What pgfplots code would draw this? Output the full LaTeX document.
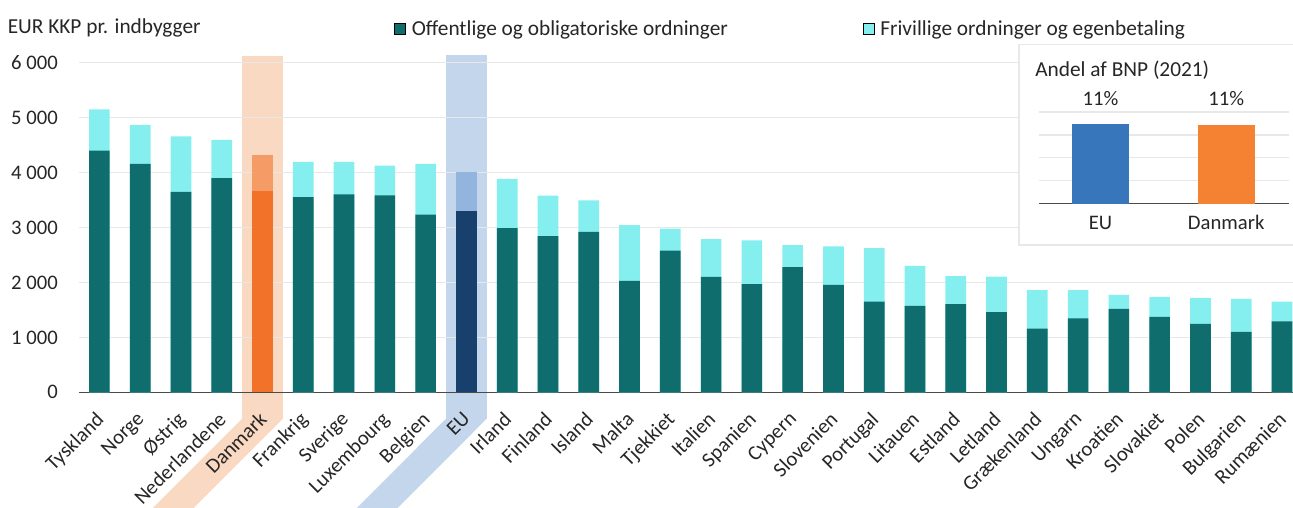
\documentclass[border=0pt]{standalone}
\usepackage{fontspec}
\setmainfont{Carlito}
\usepackage{pgfplots}
\pgfplotsset{compat=1.18}
\definecolor{tealc}{HTML}{0F6E6D}
\definecolor{cyanc}{HTML}{85EEEF}
\definecolor{dkc}{HTML}{F2722A}
\definecolor{dkl}{HTML}{F59B66}
\definecolor{euc}{HTML}{17406D}
\definecolor{eul}{HTML}{93B5DD}
\definecolor{dkband}{HTML}{FAD9C2}
\definecolor{euband}{HTML}{C4D6EC}
\definecolor{euB}{HTML}{3776BB}
\definecolor{dkB}{HTML}{F58233}
\definecolor{gridc}{HTML}{E8E8E8}
\definecolor{axc}{HTML}{4A4A4A}
\definecolor{txt}{HTML}{262626}
\begin{document}
\begin{tikzpicture}[font=\fontsize{15.5pt}{18pt}\selectfont, text=txt]
\begin{axis}[
  set layers,
  at={(0,0)}, anchor=south west,
  scale only axis, width=910.5pt, height=247.2pt,
  xmin=-0.5, xmax=29.27, ymin=0, ymax=6000,
  clip=false,
  ybar, bar width=15.5pt, bar shift=0pt,
  axis x line*=bottom, axis y line*=left,
  y axis line style={draw=none},
  x axis line style={draw=axc, line width=1.1pt},
  major tick length=0pt,
  xtick style={draw=none}, ytick style={draw=none},
  ytick={0,1000,...,6000},
  ymajorgrids, grid style={draw=gridc, line width=0.9pt},
  /pgf/number format/assume math mode=true,
  /pgf/number format/1000 sep={\ },
  yticklabel style={inner sep=0pt, anchor=east, xshift=-15.75pt},
  xtick={0,...,29},
  xticklabels={Tyskland,Norge,Østrig,Nederlandene,Danmark,Frankrig,Sverige,Luxembourg,Belgien,EU,Irland,Finland,Island,Malta,Tjekkiet,Italien,Spanien,Cypern,Slovenien,Portugal,Litauen,Estland,Letland,Grækenland,Ungarn,Kroatien,Slovakiet,Polen,Bulgarien,Rumænien},
  xticklabel style={xshift=-3.5pt, yshift=-13.5pt, rotate=45, anchor=north east, inner sep=0pt},
  legend image code/.code={\fill[#1] (0pt,-4.1pt) rectangle (8.25pt,4.1pt);},
  legend columns=-1,
  legend style={at={(0.2595,1.1028)}, anchor=west, draw=none, fill=none, inner sep=0pt,
    nodes={inner sep=0pt, font=\fontsize{16pt}{19pt}\selectfont},
    /tikz/every odd column/.style={column sep=4.5pt}},
]
\begin{pgfonlayer}{axis background}
\fill[dkband] (axis cs:3.5,6122) -- (axis cs:4.5,6122) -- (axis cs:4.5,-480) -- (axis cs:2.021,-2324) -- (axis cs:1.021,-2324) -- (axis cs:3.5,-480) -- cycle;
\fill[euband] (axis cs:8.5,6140) -- (axis cs:9.5,6140) -- (axis cs:9.5,-480) -- (axis cs:7.021,-2324) -- (axis cs:6.021,-2324) -- (axis cs:8.5,-480) -- cycle;
\end{pgfonlayer}
\addlegendimage{fill=tealc}
\addlegendentry{\makebox[338.25pt][l]{Offentlige og obligatoriske ordninger}}
\addlegendimage{fill=cyanc}
\addlegendentry{Frivillige ordninger og egenbetaling}
% totals
\addplot[fill=cyanc, draw=none, forget plot] coordinates {
(0,5150) (1,4870) (2,4660) (3,4595) (5,4195) (6,4195) (7,4125) (8,4160)
(10,3885) (11,3580) (12,3495) (13,3045) (14,2980) (15,2790) (16,2765) (17,2680)
(18,2655) (19,2625) (20,2300) (21,2115) (22,2105) (23,1860) (24,1860) (25,1775)
(26,1735) (27,1720) (28,1700) (29,1650)};
% public
\addplot[fill=tealc, draw=none, forget plot] coordinates {
(0,4400) (1,4160) (2,3650) (3,3900) (5,3555) (6,3605) (7,3585) (8,3235)
(10,2990) (11,2845) (12,2920) (13,2030) (14,2580) (15,2100) (16,1970) (17,2280)
(18,1955) (19,1650) (20,1575) (21,1605) (22,1460) (23,1160) (24,1345) (25,1520)
(26,1375) (27,1245) (28,1100) (29,1290)};
\addplot[fill=dkl, draw=none, forget plot] coordinates {(4,4320)};
\addplot[fill=dkc, draw=none, forget plot] coordinates {(4,3665)};
\addplot[fill=eul, draw=none, forget plot] coordinates {(9,4010)};
\addplot[fill=euc, draw=none, forget plot] coordinates {(9,3300)};
\end{axis}
\node[anchor=base west, inner sep=0pt, font=\fontsize{16pt}{19pt}\selectfont] at (-53.6pt,269.25pt) {EUR KKP pr. indbygger};
\draw[draw=gridc, line width=0.9pt, fill=white] (705pt,110.5pt) rectangle (916pt,261pt);
\node[anchor=base west, inner sep=0pt, font=\fontsize{16pt}{19pt}\selectfont] at (717pt,236.7pt) {Andel af BNP (2021)};
\begin{axis}[
  at={(720pt,141.45pt)}, anchor=south west,
  scale only axis, width=187.5pt, height=68.8pt,
  xmin=-0.49, xmax=1.5, ymin=0, ymax=12.65,
  clip=false,
  ybar, bar width=42.75pt, bar shift=0pt,
  axis x line*=bottom, axis y line*=left,
  y axis line style={draw=none},
  x axis line style={draw=axc, line width=1.1pt},
  major tick length=0pt,
  xtick style={draw=none}, ytick style={draw=none},
  ytick={0,3.1625,6.325,9.4875,12.65}, yticklabels={},
  ymajorgrids, grid style={draw=gridc, line width=0.9pt},
  xtick={0,1}, xticklabels={EU,Danmark},
  xticklabel style={anchor=base, inner sep=0pt, yshift=-19pt},
  nodes near coords={\pgfmathprintnumber[fixed,precision=0,assume math mode=true]{\pgfplotspointmeta}\%},
  every node near coord/.style={anchor=south, inner sep=0pt, yshift=13.7pt, text=txt},
]
\addplot[fill=euB, draw=none] coordinates {(0,11.0)};
\addplot[fill=dkB, draw=none] coordinates {(1,10.9)};
\end{axis}
\pgfresetboundingbox
\path[use as bounding box] (-59.25pt,-86.03pt) rectangle (910.5pt,294.23pt);
\end{tikzpicture}
\end{document}
